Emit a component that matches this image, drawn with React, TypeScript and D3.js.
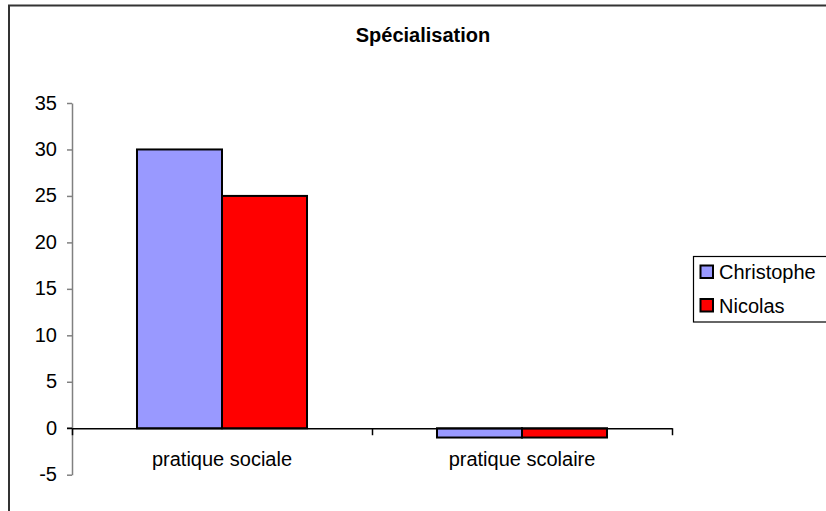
import * as React from 'react';
import * as d3 from 'd3';

const categories = ['pratique sociale', 'pratique scolaire'];
const seriesNames = ['Christophe', 'Nicolas'];
const christophe = [30, -1];
const nicolas = [25, -1];
const yTicks = [-5, 0, 5, 10, 15, 20, 25, 30, 35];
const colors = ['#9999FF', '#FF0000'];
const title = 'Spécialisation';

export default function App() {
  const svgRef = React.useRef<SVGSVGElement | null>(null);
  const width = 826;
  const height = 511;
  const plot = { left: 72, right: 672, top: 103, bottom: 474.7 };
  const font = '"Liberation Sans", Arial, sans-serif';

  React.useEffect(() => {
    if (!svgRef.current) return;
    const svg = d3.select(svgRef.current);
    svg.selectAll('*').remove();

    const series = [christophe, nicolas];

    const y = d3
      .scaleLinear()
      .domain([-5, 35])
      .range([plot.bottom, plot.top]);

    const x0 = d3
      .scaleBand()
      .domain(categories)
      .range([plot.left, plot.right])
      .paddingInner(0.4333)
      .paddingOuter(0.4333 / 2);

    const x1 = d3
      .scaleBand()
      .domain(seriesNames)
      .range([0, x0.bandwidth()]);

    // outer chart frame (runs off the right and bottom)
    svg
      .append('rect')
      .attr('x', 9)
      .attr('y', 5.5)
      .attr('width', 840)
      .attr('height', 530)
      .attr('fill', 'white')
      .attr('stroke', '#333')
      .attr('stroke-width', 2);

    svg
      .append('text')
      .attr('x', 423)
      .attr('y', 42)
      .attr('text-anchor', 'middle')
      .attr('font-family', font)
      .attr('font-weight', 'bold')
      .attr('font-size', 20)
      .text(title);

    // y axis
    const yAxis = d3
      .axisLeft(y)
      .tickValues(yTicks)
      .tickSize(5)
      .tickSizeOuter(0)
      .tickPadding(10)
      .tickFormat((d) => String(d));
    const yg = svg
      .append('g')
      .attr('transform', `translate(${plot.left},0)`)
      .call(yAxis);
    yg.select('.domain').attr('stroke', '#808080').attr('stroke-width', 1.5);
    yg.selectAll('line').attr('stroke', '#808080').attr('stroke-width', 1.5);
    yg.selectAll('text')
      .attr('font-family', font)
      .attr('font-size', 20)
      .attr('fill', '#000')
      .attr('dy', '0.3em');

    // bars
    const groups = svg
      .append('g')
      .selectAll('g')
      .data(categories)
      .enter()
      .append('g')
      .attr('transform', (d) => `translate(${x0(d)},0)`);

    groups
      .selectAll('rect')
      .data((_, i) => series.map((s, k) => ({ name: seriesNames[k], v: s[i], k })))
      .enter()
      .append('rect')
      .attr('x', (d) => x1(d.name) as number)
      .attr('width', x1.bandwidth())
      .attr('y', (d) => y(Math.max(0, d.v)))
      .attr('height', (d) => Math.abs(y(d.v) - y(0)))
      .attr('fill', (d) => colors[d.k])
      .attr('stroke', '#000')
      .attr('stroke-width', 2);

    // x axis at zero
    const xt = d3
      .scaleLinear()
      .domain([0, categories.length])
      .range([plot.left, plot.right]);
    const xAxis = d3
      .axisBottom(xt)
      .tickValues(d3.range(categories.length + 1))
      .tickSize(7)
      .tickSizeOuter(0)
      .tickFormat(() => '');
    const xg = svg
      .append('g')
      .attr('transform', `translate(0,${y(0)})`)
      .call(xAxis);
    xg.select('.domain').attr('stroke', '#000').attr('stroke-width', 1.5);
    xg.selectAll('line').attr('stroke', '#000').attr('stroke-width', 1.5);
    svg
      .append('line')
      .attr('x1', plot.left - 5)
      .attr('x2', plot.left)
      .attr('y1', y(0))
      .attr('y2', y(0))
      .attr('stroke', '#000')
      .attr('stroke-width', 1.5);

    svg
      .append('g')
      .selectAll('text')
      .data(categories)
      .enter()
      .append('text')
      .attr('x', (d) => (x0(d) as number) + x0.bandwidth() / 2)
      .attr('y', 466)
      .attr('text-anchor', 'middle')
      .attr('font-family', font)
      .attr('font-size', 20)
      .text((d) => d);

    // legend
    const lg = svg.append('g');
    lg.append('rect')
      .attr('x', 693.5)
      .attr('y', 256.5)
      .attr('width', 140)
      .attr('height', 65.5)
      .attr('fill', 'white')
      .attr('stroke', '#000')
      .attr('stroke-width', 1.2);
    const items = lg
      .selectAll('g.item')
      .data(seriesNames)
      .enter()
      .append('g')
      .attr('class', 'item')
      .attr('transform', (_, i) => `translate(700,${265 + i * 33.5})`);
    items
      .append('rect')
      .attr('x', 0.5)
      .attr('y', 0.5)
      .attr('width', 12.5)
      .attr('height', 12.5)
      .attr('fill', (_, i) => colors[i])
      .attr('stroke', '#000')
      .attr('stroke-width', 2);
    items
      .append('text')
      .attr('x', 19)
      .attr('y', 14)
      .attr('font-family', font)
      .attr('font-size', 20)
      .text((d) => d);
  }, []);

  return (
    <svg
      ref={svgRef}
      width={width}
      height={height}
      style={{ position: 'absolute', left: 0, top: 0, background: 'white' }}
    />
  );
}
